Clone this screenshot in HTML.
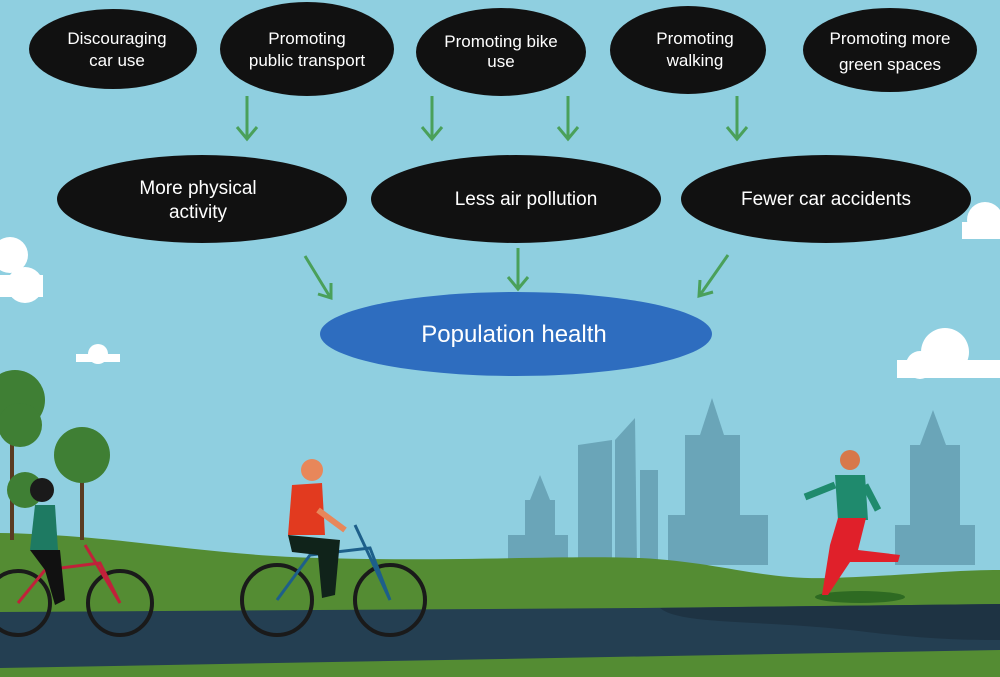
<!DOCTYPE html>
<html><head><meta charset="utf-8"><style>
html,body{margin:0;padding:0;width:1000px;height:677px;overflow:hidden;background:#8fcfe0}
svg{display:block}
text{font-family:"Liberation Sans",sans-serif;fill:#fff}
</style></head><body>
<svg width="1000" height="677" viewBox="0 0 1000 677">
<rect width="1000" height="677" fill="#8fcfe0"/>
<g fill="#fff">
<circle cx="10" cy="255" r="18"/><circle cx="25" cy="285" r="18"/><rect x="0" y="275" width="43" height="22"/>
<circle cx="98" cy="354" r="10"/><rect x="76" y="354" width="44" height="8"/>
<circle cx="945" cy="352" r="24"/><circle cx="920" cy="365" r="14"/><rect x="897" y="360" width="103" height="18"/>
<circle cx="985" cy="220" r="18"/><rect x="962" y="222" width="38" height="17"/>
</g>
<g fill="#6aa5b8">
<rect x="525" y="500" width="30" height="62"/><polygon points="530,500 540,475 550,500"/>
<rect x="508" y="535" width="60" height="30"/>
<polygon points="578,445 612,440 612,565 578,565"/><polygon points="615,440 635,418 637,565 615,565"/>
<rect x="640" y="470" width="18" height="95"/>
<rect x="685" y="435" width="55" height="130"/><polygon points="700,435 712,398 724,435"/>
<rect x="668" y="515" width="100" height="50"/>
<rect x="910" y="445" width="50" height="120"/><polygon points="920,445 933,410 946,445"/>
<rect x="895" y="525" width="80" height="40"/>
</g>
<path d="M0,533 C120,535 200,555 320,558 C450,562 560,555 640,558 C720,562 760,580 830,578 C900,576 950,570 1000,570 L1000,677 L0,677Z" fill="#548c33"/>
<path d="M0,612 L640,608 L1000,604 L1000,650 L0,668Z" fill="#243f52"/>
<path d="M660,608 C680,625 760,620 850,630 C930,640 970,640 1000,640 L1000,604Z" fill="#1e3343"/>
<g>
<rect x="10" y="430" width="4" height="110" fill="#5a3b22"/><circle cx="15" cy="400" r="30" fill="#3f7f34"/><circle cx="20" cy="425" r="22" fill="#3f7f34"/>
<rect x="80" y="470" width="4" height="70" fill="#5a3b22"/><circle cx="82" cy="455" r="28" fill="#3f7f34"/>
<circle cx="25" cy="490" r="18" fill="#3f7f34"/>
</g>
<g>
<circle cx="18" cy="603" r="32" fill="none" stroke="#1a1a1a" stroke-width="4"/><circle cx="120" cy="603" r="32" fill="none" stroke="#1a1a1a" stroke-width="4"/>
<polyline points="18,603 45,570 100,563 120,603 85,545" fill="none" stroke="#c0213a" stroke-width="3"/>
<path d="M35,505 L55,505 L58,550 L30,550Z" fill="#1e7a62"/><circle cx="42" cy="490" r="12" fill="#1a1a1a"/>
<path d="M30,550 L60,550 L65,600 L55,605 L45,570Z" fill="#111"/>
</g>
<g>
<circle cx="277" cy="600" r="35" fill="none" stroke="#1a1a1a" stroke-width="4"/><circle cx="390" cy="600" r="35" fill="none" stroke="#1a1a1a" stroke-width="4"/>
<polyline points="277,600 310,555 370,548 390,600 355,525" fill="none" stroke="#1d5f8a" stroke-width="3"/>
<path d="M292,485 L322,483 L325,535 L288,535Z" fill="#e23a1f"/><circle cx="312" cy="470" r="11" fill="#e8875a"/>
<path d="M288,535 L340,540 L335,595 L322,598 L318,555 L292,552Z" fill="#10231a"/>
<path d="M318,510 L345,530" stroke="#e8875a" stroke-width="6"/>
</g>
<g>
<ellipse cx="860" cy="597" rx="45" ry="6" fill="#2e6a22"/>
<path d="M835,475 L865,475 L868,520 L838,520Z" fill="#1f8a6d"/><circle cx="850" cy="460" r="10" fill="#d7784a"/>
<path d="M838,518 L866,518 L858,550 L900,555 L898,562 L850,562 L828,595 L822,595 L830,545Z" fill="#e0202a"/>
<path d="M835,485 L805,497 M865,485 L878,510" stroke="#1f8a6d" stroke-width="7"/>
</g>
<g font-size="17">
<g><ellipse cx="113" cy="49" rx="84" ry="40" fill="#111"/><text x="117" y="44" text-anchor="middle">Discouraging</text><text x="117" y="66" text-anchor="middle">car use</text></g>
<g><ellipse cx="307" cy="49" rx="87" ry="47" fill="#111"/><text x="307" y="44" text-anchor="middle">Promoting</text><text x="307" y="66" text-anchor="middle">public transport</text></g>
<g><ellipse cx="501" cy="52" rx="85" ry="44" fill="#111"/><text x="501" y="47" text-anchor="middle">Promoting bike</text><text x="501" y="67" text-anchor="middle">use</text></g>
<g><ellipse cx="688" cy="50" rx="78" ry="44" fill="#111"/><text x="695" y="44" text-anchor="middle">Promoting</text><text x="695" y="66" text-anchor="middle">walking</text></g>
<g><ellipse cx="890" cy="50" rx="87" ry="42" fill="#111"/><text x="890" y="44" text-anchor="middle">Promoting more</text><text x="890" y="70" text-anchor="middle">green spaces</text></g>
</g>
<g stroke="#4aa05a" stroke-width="3" fill="none">
<path d="M247,96 V138 M237,127 L247,139 L257,127"/>
<path d="M432,96 V138 M422,127 L432,139 L442,127"/>
<path d="M568,96 V138 M558,127 L568,139 L578,127"/>
<path d="M737,96 V138 M727,127 L737,139 L747,127"/>
<path d="M305,256 L330,297 M318,294 L331,298 L331,283"/>
<path d="M518,248 V288 M508,277 L518,289 L528,277"/>
<path d="M728,255 L700,295 M700,280 L699,296 L713,292"/>
</g>
<g font-size="19">
<g><ellipse cx="202" cy="199" rx="145" ry="44" fill="#111"/><text x="198" y="194" text-anchor="middle">More physical</text><text x="198" y="218" text-anchor="middle">activity</text></g>
<g><ellipse cx="516" cy="199" rx="145" ry="44" fill="#111"/><text x="526" y="205" text-anchor="middle">Less air pollution</text></g>
<g><ellipse cx="826" cy="199" rx="145" ry="44" fill="#111"/><text x="826" y="205" text-anchor="middle">Fewer car accidents</text></g>
</g>
<g><ellipse cx="516" cy="334" rx="196" ry="42" fill="#2e6dbf"/><text x="514" y="342" text-anchor="middle" font-size="24">Population health</text></g>
</svg>
</body></html>
